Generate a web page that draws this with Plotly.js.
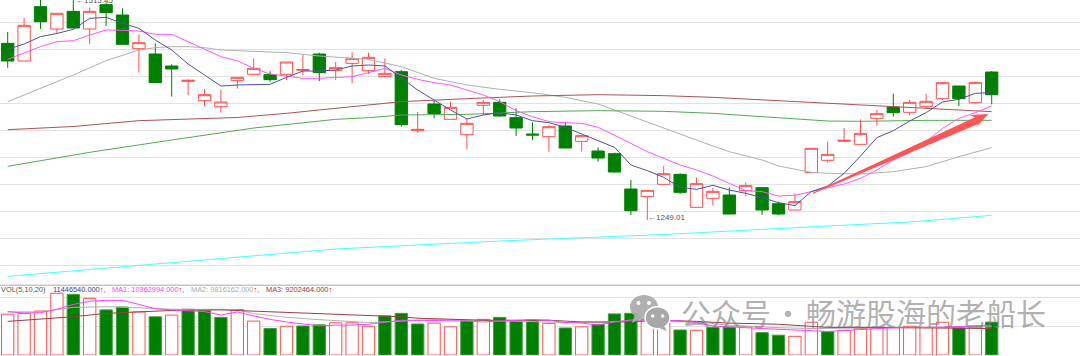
<!DOCTYPE html>
<html><head><meta charset="utf-8">
<script src="https://cdn.plot.ly/plotly-3.0.0.min.js"></script>
<style>html,body{margin:0;padding:0;background:#fff;overflow:hidden}</style>
</head><body><div id="chart" style="width:1080px;height:356px"></div>
<script>
const openP=[1461,1439.8,1505,1478.2,1499.4,1478.2,1507.4,1495,1454.6,1448.2,1433.8,1415.4,1392.2,1385,1416.2,1423.8,1423.4,1423.8,1428.6,1448.2,1428.2,1437,1428.2,1421,1427,1356.2,1388.2,1369.8,1351.4,1386.6,1390.2,1371.8,1352.2,1349,1361.8,1343.4,1331.8,1328.6,1286.2,1277,1291.8,1303.8,1264.2,1275,1279,1284.2,1287.8,1268.6,1261,1305.8,1320.6,1343.4,1339.8,1371,1384.6,1378.2,1385,1394.6,1409.8,1389.8,1426.6];
const closeP=[1439.8,1482.6,1487,1497,1479.4,1499.4,1497.8,1459.8,1461.8,1413.8,1430.2,1416.6,1399.4,1390.6,1420.2,1431,1417.4,1438.6,1429.6,1425.8,1431.8,1442.6,1444.2,1425,1363.4,1357.8,1376.6,1384.2,1365,1390.2,1373.8,1359.4,1351,1361,1335.4,1350.2,1323.4,1306.6,1260.2,1284.6,1304.6,1282.2,1292.6,1283.4,1256.2,1290.2,1261,1256.2,1271,1335,1327.8,1344.6,1353,1376.6,1377.8,1390.2,1391.4,1413.8,1394.6,1414.2,1399.4];
const highP=[1474.6,1491.4,1514.2,1497.4,1515.45,1504.2,1510,1503,1471.8,1461,1435.8,1417.8,1406.2,1405.8,1420.2,1443,1427.4,1438.6,1447,1449.8,1438.6,1450.2,1449.8,1443,1429,1378.6,1392.2,1391,1371,1393,1393.8,1383,1366.2,1363,1365.8,1351,1336.2,1329.8,1297,1284.6,1313.8,1305,1299.8,1287.4,1288.2,1294.2,1287.8,1271,1281,1335,1343,1359.4,1369.8,1381,1400.6,1393,1400.6,1415,1409.8,1415,1427.8];
const lowP=[1431.8,1439.8,1478.2,1473.4,1479.4,1459.8,1481.8,1459,1425.8,1413.8,1397,1399,1385.8,1377.8,1406.6,1423.8,1415,1417,1423,1415.8,1417,1413,1424.2,1421,1361,1353.8,1371,1369.8,1333.8,1375,1373,1349.8,1345,1331,1335,1331,1319,1305.8,1255,1249.01,1291.8,1280.2,1264.2,1266.6,1256.2,1277.8,1255,1255,1261,1305,1317.8,1343,1339.8,1362.2,1373,1374.2,1383,1393,1385.8,1388.6,1387.8];
const ma5=[1453.8,1460.2,1469,1472.8,1477.8,1491,1492.2,1485,1479,1465,1453,1436.2,1423,1409.8,1411,1411.8,1411.8,1420.2,1427.8,1427.8,1429,1433.8,1435,1433.8,1419,1405,1393,1381,1370.2,1375,1377.8,1375,1368.2,1365.8,1360.2,1352.2,1345,1336.2,1315,1308.2,1300.2,1288.2,1285.8,1290.6,1285,1281,1275.8,1269.8,1266.2,1283,1289.8,1305,1325.8,1347.8,1356.2,1367.8,1377.8,1390.6,1393.8,1401,1401.8];
const ma10=[1441.8,1449.8,1457,1463,1464.2,1471,1477,1476.6,1475.8,1471.8,1471.8,1463,1453.8,1445,1440.2,1431,1424.2,1421.8,1419,1419,1420.2,1421,1425.8,1431,1423,1417.8,1413.8,1411,1405,1399,1391,1380.2,1373,1367,1365.8,1365,1360.2,1351,1341,1331,1323,1315,1309,1301.8,1293,1284.2,1283,1277.8,1278.6,1283,1288.2,1292.2,1299,1309,1321,1329.8,1343,1359,1371,1377.8,1385.8];
const ma20Idx=[0,2,4,6,8,9,10,11,12,13,15,17,19,21,22,24,26,28,30,32,34,36,37,38,40,42,43,44,46,47,48,49,50,52,54,56,58,60];
const ma20=[1391,1407,1423,1440.2,1453,1455.8,1457,1457,1455.8,1453,1451.8,1449.8,1445.8,1443.4,1441.8,1433,1419,1411,1405.8,1401.8,1396.2,1388.2,1381,1373,1359,1345,1337.8,1331,1321,1313.8,1309.8,1306.2,1305,1304.2,1307,1313,1325,1335.8];
const ma60Idx=[0,4,8,11,14,17,21,24,28,32,36,40,43,46,48,52,54,56,58,60];
const ma60=[1357.4,1361.2,1368.2,1369.8,1372,1377,1385.4,1391,1394.6,1397.8,1399.4,1398.2,1396.2,1393,1391,1386.6,1385,1383,1381,1379];
const ma120Idx=[0,5,10,15,20,22,24,28,32,36,40,43,46,48,50,52,56,60];
const ma120=[1313.4,1330.2,1345,1359.4,1369.8,1371.8,1375,1375.8,1379,1380.2,1379.4,1377,1373,1370.6,1367.8,1367.4,1368.6,1368.6];
const ma250Idx=[0,10,20,30,40,50,55,60];
const ma250=[1181.4,1198.2,1214.2,1223.8,1231.6,1241.8,1246.6,1254.6];
const volume=[14.2,14.5,15.3,21.5,21.1,19.7,15.7,16.7,15,13.3,13.9,15.9,15.4,13.1,15.8,11.8,9.2,10,10.1,10.5,11.2,11.2,10,13.6,14.5,10.8,11.1,9.8,11.9,12.4,13.1,11.9,12.2,11,9.4,9.8,10.7,14.3,14.5,12.4,11.1,8.7,8.6,9.6,9.7,9.8,7.8,6.9,6.5,11.4,8.1,8.6,9.2,9.5,9.5,10,9.5,11.4,9.5,10.1,11.45];
const volUp=[1,1,1,1,0,1,0,0,1,0,1,0,0,0,1,1,0,1,0,0,1,1,1,0,0,0,1,1,0,1,0,0,0,1,0,1,0,0,0,1,1,0,1,0,0,1,0,0,1,1,0,1,1,1,1,1,1,1,0,1,0];
const volMa1=[15.1,14.6,14.7,15.9,17.6,18.7,19,19,17.6,16.1,15.7,15.5,15.1,13.9,15,13.6,12.4,11.5,10.7,10.1,10.4,10.4,10.7,11.5,12.1,12.1,12.1,11.9,11.8,11.5,11.8,12.1,12.3,12.1,11.3,11.1,10.4,11.5,12.2,12.2,12.3,11.8,11.3,10.1,9.9,9.5,9.2,8.9,8.7,8.4,8.2,8.5,8.9,9.3,9.5,9.5,9.5,9.7,9.9,10.1,10.36];
const volMa2Idx=[0,2,4,6,8,10,13,14,15,17,19,21,22,24,26,30,34,38,42,44,47,49,53,60];
const volMa2=[15,15,16.6,16.8,16.4,15.9,15.9,15.7,14.4,13.1,12.3,11.7,11.3,11.8,12.3,11.9,11.3,11.8,11.5,10.4,9.5,9.2,9.4,9.82];
const volMa3Idx=[0,2,4,6,8,10,13,15,17,19,21,22,24,25,27,29,33,35,37,40,42,43,44,47,48,50,53,57,60];
const volMa3=[11.7,12.4,13.3,14.5,15.1,15.5,15.7,15.3,14.7,14.3,13.9,13.8,13.3,12.8,12.4,12.1,12.1,11.5,11.4,12.1,11.7,11.4,11.1,10.7,10.3,9.6,9.6,9.5,9.2];

const W=1080,H=356;
const px=x=>x/W, py=y=>1-y/H;
const idx=openP.map((_,i)=>i);
const RED='#ff5050',GREEN='#008000';
const line=(x,y,color,yaxis='y',xaxis='x',width=1)=>({type:'scatter',mode:'lines',x,y,xaxis,yaxis,hoverinfo:'skip',line:{color,width,shape:'linear'}});

const traces=[
 {type:'bar',x:idx,y:volume,xaxis:'x2',yaxis:'y2',hoverinfo:'skip',
  marker:{color:volUp.map(u=>u?'#ffffff':GREEN),line:{color:volUp.map(u=>u?RED:'#3f9f3f'),width:1}}},
 {type:'candlestick',x:idx,open:openP,high:highP,low:lowP,close:closeP,xaxis:'x',yaxis:'y',hoverinfo:'skip',
  whiskerwidth:0,
  increasing:{line:{color:RED,width:1},fillcolor:'#ffffff'},
  decreasing:{line:{color:GREEN,width:1},fillcolor:GREEN}},
 line(ma20Idx,ma20,'#b0b0b0'),
 line(ma60Idx,ma60,'#a85555'),
 line(ma120Idx,ma120,'#55aa55'),
 line(ma250Idx,ma250,'#44ffff'),
 line(idx,ma10,'#ff55ff'),
 line(idx,ma5,'#5050a8'),
 line(volMa2Idx,volMa2,'#b0b0b0','y2','x2'),
 line(volMa3Idx,volMa3,'#994040','y2','x2'),
 line(idx,volMa1,'#ff40ff','y2','x2')
];

const ellipse=(cx,cy,rx,ry,fill,lw=0,lc='#fff',op=0.9)=>({type:'circle',xref:'paper',yref:'paper',layer:'above',
  x0:px(cx-rx),x1:px(cx+rx),y0:py(cy+ry),y1:py(cy-ry),fillcolor:fill,opacity:op,line:{width:lw,color:lc}});
const poly=(pts,fill)=>({type:'path',xref:'paper',yref:'paper',layer:'above',fillcolor:fill,line:{width:0},
  path:'M'+pts.map(p=>px(p[0])+','+py(p[1])).join('L')+'Z'});

const shapes=[
 {type:'line',xref:'paper',yref:'paper',x0:0,x1:1,y0:py(285.3),y1:py(285.3),line:{color:'#c6c6c6',width:1.5},layer:'below'},
 poly([[812.5,192.8],[975,117.3],[970,115],[988.3,114],[976.7,126.7],[978,124],[813,193.8]],'#ff5555'),
 poly([[635,314],[632,323],[642,318]],'#a8a8a8'),
 ellipse(644,307,14,12,'#a8a8a8'),
 ellipse(657.5,317.7,12.5,11,'#a8a8a8',1.5,'#ffffff',1),
 poly([[664,326],[667,331],[659,328]],'#a8a8a8'),
 ellipse(638.5,303,2,2,'#fff',0,'#fff',1),
 ellipse(649,303,2,2,'#fff',0,'#fff',1),
 ellipse(652.7,316,1.7,1.7,'#fff',0,'#fff',1),
 ellipse(662.7,316,1.7,1.7,'#fff',0,'#fff',1)
];

const LEG='"Liberation Sans"';
const legendText=(x,text,color)=>({xref:'paper',yref:'paper',x:px(x),y:py(289.3),xanchor:'left',yanchor:'middle',align:'left',
  showarrow:false,borderpad:0,text,font:{family:LEG,size:7.4,color}});
const up='<span style="color:#ee2222">↑,</span>';
const wm=(x,text)=>({xref:'paper',yref:'paper',x:px(x),y:py(312),xanchor:'left',yanchor:'middle',showarrow:false,borderpad:0,
  text,font:{family:'"Noto Sans CJK SC"',size:30,color:'rgba(125,125,125,0.62)'}});
const priceNote=(extra)=>Object.assign({xanchor:'left',yanchor:'middle',showarrow:false,borderpad:0,
  font:{family:'"Liberation Sans"',size:8,color:'#555555'}},extra);

const annotations=[
 priceNote({xref:'x',yref:'paper',x:4,xshift:1.5,y:py(1),text:'←1515.45'}),
 priceNote({xref:'x',yref:'y',x:39,y:1249.01,yshift:2,text:'←1249.01'}),
 legendText(0,'VOL(5,10,20)','#555555'),
 legendText(51.7,'11446540.000'+up,'#3c3ca0'),
 legendText(111,'MA1: 10362994.000'+up,'#ff40ff'),
 legendText(190,'MA2: 9816162.000'+up,'#aaaaaa'),
 legendText(265,'MA3: 9202464.000'+'<span style="color:#ee2222">↑</span>','#904040'),
 wm(680,'公众号'),
 wm(772,'·'),
 wm(805,'畅游股海的老船长')
];

const xBase={range:[-0.4695,65.384],showgrid:false,zeroline:false,showticklabels:false,ticks:'',showline:false,fixedrange:true};
const layout={
 width:W,height:H,margin:{l:0,r:0,t:0,b:0,pad:0},paper_bgcolor:'#fff',plot_bgcolor:'#fff',showlegend:false,
 boxgap:0.25,boxgroupgap:0,bargap:0.25,shapes,annotations,
 xaxis:Object.assign({},xBase,{anchor:'y',rangeslider:{visible:false},domain:[0,1]}),
 xaxis2:Object.assign({},xBase,{anchor:'y2',domain:[0,1]}),
 yaxis:{domain:[71/356,1],range:[1171,1513],tickmode:'linear',tick0:1485.8,dtick:32.4,showgrid:true,gridcolor:'#e2e2e2',gridwidth:1.2,zeroline:false,showticklabels:false,ticks:'',showline:false,fixedrange:true},
 yaxis2:{domain:[1/356,71/356],range:[0,24.36],tickmode:'linear',tick0:0,dtick:10,showgrid:true,gridcolor:'#e2e2e2',gridwidth:1.2,zeroline:false,showticklabels:false,ticks:'',showline:false,fixedrange:true}
};
Plotly.newPlot('chart',traces,layout,{staticPlot:true,displayModeBar:false});
</script></body></html>
